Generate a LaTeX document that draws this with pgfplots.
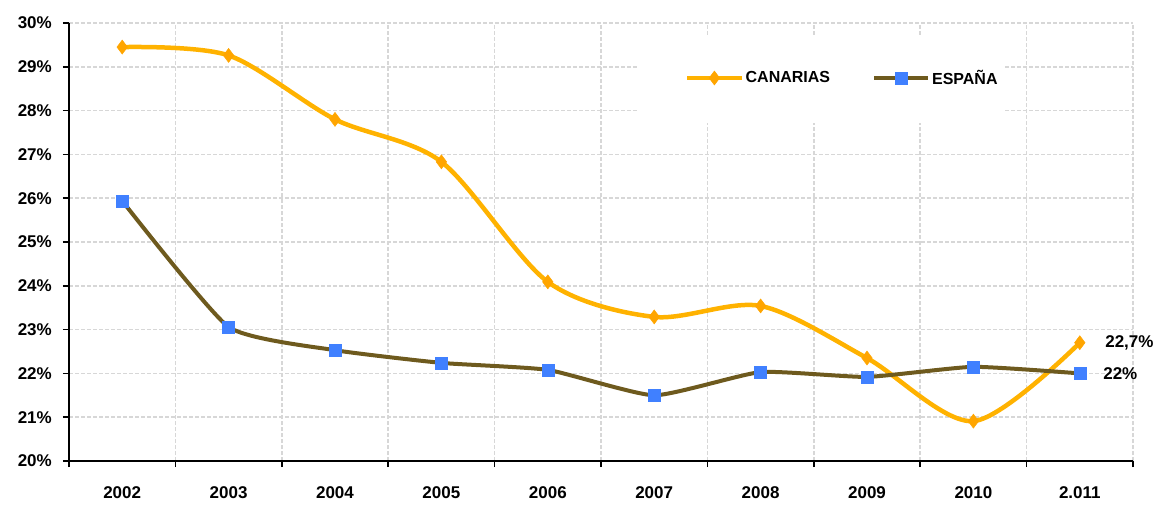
\documentclass[border=0pt]{standalone}
\usepackage{pgfplots}
\pgfplotsset{compat=1.18}
\usepackage{fontspec}
\setmainfont{Liberation Sans}
\definecolor{orangeL}{RGB}{255,178,0}
\definecolor{orangeM}{RGB}{255,165,0}
\definecolor{brownL}{RGB}{110,90,30}
\definecolor{blueM}{RGB}{64,128,255}
\definecolor{gridc}{RGB}{215,215,215}
\begin{document}
\begin{tikzpicture}[font=\fontsize{17}{20}\selectfont\bfseries]
\useasboundingbox (-69pt,-50pt) rectangle (1089pt,461pt);
\begin{axis}[
  scale only axis, width=1064pt, height=438pt,
  at={(0,0)}, anchor=south west,
  xmin=-0.5, xmax=9.5, ymin=20, ymax=30,
  clip=false,
  axis x line*=bottom, axis y line*=left,
  axis line style={black, line width=2pt},
  xtick={-0.5,0.5,...,9.5}, xticklabels={,,,,,,,,,,,},
  extra x ticks={0,1,2,3,4,5,6,7,8,9},
  extra x tick labels={2002,2003,2004,2005,2006,2007,2008,2009,2010,2.011},
  extra x tick style={grid=none, major tick length=0pt, tick style={draw=none}},
  xticklabel style={yshift=-22pt},
  ytick={20,21,...,30},
  yticklabel={\pgfmathprintnumber{\tick}\%},
  /pgf/number format/assume math mode=true,
  yticklabel style={inner sep=0pt, xshift=-11pt},
  xmajorgrids, ymajorgrids,
  grid style={gridc, dash pattern=on 4pt off 2pt, line width=1.6pt},
  tick align=outside,
  major tick length=6pt,
  tick style={black, line width=1.5pt},
  legend columns=2,
  legend style={at={(0.5789,0.8744)}, anchor=west, draw=none, fill=none,
    inner sep=0pt, font=\fontsize{16}{19}\selectfont\bfseries,
    /tikz/every even column/.append style={column sep=40pt}},
  legend cell align=left,
  legend image code/.code={\draw[mark repeat=2,mark phase=2,#1] plot coordinates {(0pt,0pt) (27pt,0pt) (54pt,0pt)};},
]
\fill[white] (rel axis cs:0.5348,0.9726) rectangle (rel axis cs:0.8788,0.7717);
\addplot[orangeL, line width=4.5pt, smooth, mark=diamond*, mark size=7pt,
  mark options={fill=orangeM, draw=orangeM, line width=0.5pt}]
  coordinates {(0,29.45) (1,29.26) (2,27.8) (3,26.83) (4,24.09) (5,23.29) (6,23.54) (7,22.35) (8,20.91) (9,22.7)};
\addlegendentry{CANARIAS}
\addplot[brownL, line width=4pt, smooth, tension=0.3, mark=square*, mark size=6pt,
  mark options={fill=blueM, draw=blueM, line width=0.5pt}]
  coordinates {(0,25.94) (1,23.06) (2,22.53) (3,22.24) (4,22.08) (5,21.5) (6,22.03) (7,21.92) (8,22.15) (9,22.0)};
\addlegendentry{ESPAÑA}
\node[anchor=west, xshift=22pt] at (axis cs:9,22.7) {22,7\%};
\node[anchor=west, xshift=20pt] at (axis cs:9,22.0) {22\%};
\end{axis}
\end{tikzpicture}
\end{document}
